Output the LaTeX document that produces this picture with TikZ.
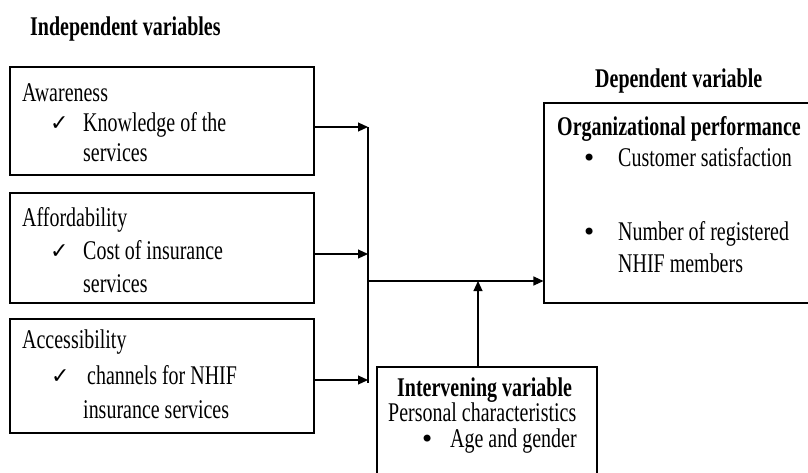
\documentclass[tikz,border=0pt]{standalone}
\usepackage{fontspec}
\setmainfont{Liberation Serif}[FakeStretch=0.74]
\newfontfamily\tickfont{DejaVu Sans}
\usetikzlibrary{arrows.meta}

\newcommand{\chkmark}{{\fontsize{22pt}{22pt}\tickfont ✓}}
\newcommand{\bul}{{\fontsize{24pt}{24pt}\tickfont •}}

\tikzset{
	box/.style={draw, line width=1.1pt, inner sep=0pt},
	txt/.style={anchor=base west, inner sep=0pt, font=\fontsize{27pt}{30pt}\selectfont},
	hd/.style={txt, font=\fontsize{27pt}{30pt}\selectfont\bfseries},
	arr/.style={-{Triangle[length=10pt,width=9pt]}, line width=1.1pt},
	ln/.style={line width=1.1pt}
}

\begin{document}
\begin{tikzpicture}[x=1pt, y=-1pt]
	\useasboundingbox (0,0) rectangle (808,472);
	% boxes
	\node[box, minimum width=304pt, minimum height=108pt] (aw) at (162,121) {};
	\node[box, minimum width=304pt, minimum height=110pt] (af) at (162,248) {};
	\node[box, minimum width=304pt, minimum height=114pt] (ac) at (162,376) {};
	\node[box, minimum width=271pt, minimum height=200pt] (dv) at (679.5,203) {};
	\node[box, minimum width=220pt, minimum height=113pt] (iv) at (487,423.5) {};
	% headings
	\node[hd] (indep) at (30,35) {Independent variables};
	\node[hd] (dep) at (595,87) {Dependent variable};
	% texts
	\node[txt] (aw1) at (22,101) {Awareness};
	\node[txt] (aw2) at (50,130) {\chkmark};
	\node[txt] (aw3) at (83,131) {Knowledge of the};
	\node[txt] (aw4) at (83,161) {services};
	\node[txt] (af1) at (22,226) {Affordability};
	\node[txt] (af2) at (50,258) {\chkmark};
	\node[txt] (af3) at (83,259) {Cost of insurance};
	\node[txt] (af4) at (83,292) {services};
	\node[txt] (ac1) at (22,348) {Accessibility};
	\node[txt] (ac2) at (51,383) {\chkmark};
	\node[txt] (ac3) at (87,384) {channels for NHIF};
	\node[txt] (ac4) at (83,418) {insurance services};
	\node[hd] (dv1) at (557,135) {Organizational performance};
	\node[txt] (dv2) at (582,166) {\bul};
	\node[txt] (dv3) at (618,166) {Customer satisfaction};
	\node[txt] (dv4) at (582,240) {\bul};
	\node[txt] (dv5) at (618,240) {Number of registered};
	\node[txt] (dv6) at (618,272) {NHIF members};
	\node[hd] (iv1) at (397,396) {Intervening variable};
	\node[txt] (iv2) at (388,421.5) {Personal characteristics};
	\node[txt] (iv3) at (420,447) {\bul};
	\node[txt] (iv4) at (450,447) {Age and gender};
	% connectors
	\coordinate (j1) at (368,127);
	\coordinate (j2) at (368,254);
	\coordinate (j3) at (368,380);
	\coordinate (m) at (368,281);
	\coordinate (up) at (478,281);
	\draw[arr] (aw.east |- j1) -- (j1);
	\draw[arr] (af.east |- j2) -- (j2);
	\draw[arr] (ac.east |- j3) -- (j3);
	\draw[ln] (j1) -- ([yshift=-3pt]j3);
	\draw[arr] (m) -- (dv.west |- m);
	\draw[arr] (up |- iv.north) -- (up);
\end{tikzpicture}
\end{document}
